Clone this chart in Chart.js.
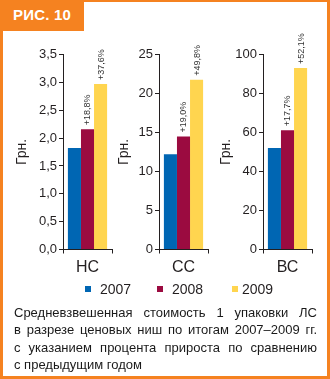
<!DOCTYPE html>
<html>
<head>
<meta charset="utf-8">
<script src="https://cdn.jsdelivr.net/npm/chart.js@4/dist/chart.umd.min.js"></script>
<style>
  html, body { margin:0; padding:0; background:#fff; }
  #wrap { position:relative; width:330px; height:379px; overflow:hidden; font-family:'Liberation Sans', Arial, sans-serif; }
  .frame { position:absolute; background:#f58220; }
  #tab { position:absolute; left:0; top:0; width:84px; height:31px; background:#f58220; color:#fff; font-weight:bold; font-size:15px; z-index:2; }
  #tab span { position:absolute; left:13px; top:6px; letter-spacing:0.2px; }
  .pane { position:absolute; top:32px; height:248px; }
  .leg { position:absolute; top:281px; font-size:14px; color:#231f20; line-height:16px; }
  .sq { position:absolute; top:286px; width:6px; height:6px; }
  #caption { position:absolute; left:14px; top:304px; width:303px; font-size:13px; line-height:17.4px; color:#1a1a1a; }
  #caption div { text-align:justify; text-align-last:justify; white-space:nowrap; }
  #caption div.last { text-align-last:left; }
</style>
</head>
<body>
<div id="wrap">
  <div class="frame" style="left:84px;top:0;width:246px;height:2px"></div>
  <div class="frame" style="left:0;top:0;width:3px;height:379px"></div>
  <div class="frame" style="left:327px;top:0;width:3px;height:379px"></div>
  <div class="frame" style="left:0;top:376px;width:330px;height:3px"></div>
  <div id="tab"><span>РИС. 10</span></div>

  <canvas id="c0" class="pane"></canvas>
  <canvas id="c1" class="pane"></canvas>
  <canvas id="c2" class="pane"></canvas>

  <div id="legend"></div>

  <div id="caption">
    <div>Средневзвешенная стоимость 1 упаковки ЛС</div>
    <div>в разрезе ценовых ниш по итогам 2007–2009 гг.</div>
    <div>с указанием процента прироста по сравнению</div>
    <div class="last">с предыдущим годом</div>
  </div>
</div>
<script>
// данные
const categories = ['НС', 'СС', 'ВС'];
const years = ['2007', '2008', '2009'];
const values2007 = [1.82, 12.2, 52.0];
const values2008 = [2.16, 14.5, 61.2];
const values2009 = [2.97, 21.75, 93.1];
const growth2008 = ['+18,8%', '+19,0%', '+17,7%'];
const growth2009 = ['+37,6%', '+49,8%', '+52,1%'];
const axisMax = [3.5, 25, 100];
const axisStep = [0.5, 5, 20];
const axisTitle = 'Грн.';

const colors = ['#0066b3', '#9b0b40', '#ffd54f'];
const ink = '#231f20';

// positions of the three panels
const paneLeft = [0, 104, 208];
const areaLeft = [63, 159, 263];
const areaRight = [112, 208, 312];
const titleCenter = [22, 124, 226.5];

Chart.defaults.font.family = "'Liberation Sans', Arial, sans-serif";
Chart.defaults.color = ink;

// growth labels above bars, rotated
const growthLabels = {
  id: 'growthLabels',
  afterDatasetsDraw(chart) {
    const i = chart.options.paneIndex;
    const ctx = chart.ctx;
    [[1, growth2008[i]], [2, growth2009[i]]].forEach(([ds, txt]) => {
      const el = chart.getDatasetMeta(ds).data[0];
      ctx.save();
      ctx.translate(el.x, el.y - 4);
      ctx.rotate(-Math.PI / 2);
      ctx.font = "9px 'Liberation Sans', Arial, sans-serif";
      ctx.fillStyle = '#333';
      ctx.textAlign = 'left';
      ctx.textBaseline = 'middle';
      ctx.fillText(txt, 0, 0.5);
      ctx.restore();
    });
  }
};

function makePane(i) {
  const cv = document.getElementById('c' + i);
  const w = areaRight[i] + 3 - paneLeft[i];
  cv.style.left = paneLeft[i] + 'px';
  cv.style.width = w + 'px';
  cv.width = w; cv.height = 248;
  const yWidth = areaLeft[i] - paneLeft[i];
  new Chart(cv, {
    type: 'bar',
    data: {
      labels: [categories[i]],
      datasets: [
        { label: years[0], data: [values2007[i]], backgroundColor: colors[0] },
        { label: years[1], data: [values2008[i]], backgroundColor: colors[1] },
        { label: years[2], data: [values2009[i]], backgroundColor: colors[2] }
      ]
    },
    options: {
      paneIndex: i,
      responsive: false,
      animation: false,
      events: [],
      layout: { padding: { top: 22.5, right: 3, bottom: 0, left: 0 } },
      datasets: { bar: { categoryPercentage: 0.8, barPercentage: 1 } },
      plugins: { legend: { display: false }, tooltip: { enabled: false } },
      scales: {
        x: {
          grid: { drawOnChartArea: false, drawTicks: true, tickLength: 4, color: ink },
          border: { color: ink },
          ticks: { font: { size: 16 }, padding: 4, color: ink },
          afterFit: s => { s.height = 30.5; }
        },
        y: {
          min: 0, max: axisMax[i],
          grid: { drawOnChartArea: false, drawTicks: true, tickLength: 4, color: ink },
          border: { color: ink },
          ticks: {
            stepSize: axisStep[i], font: { size: 13 }, padding: 2, color: ink,
            callback: v => i === 0 ? v.toFixed(1).replace('.', ',') : String(v)
          },
          title: {
            display: true, text: axisTitle, font: { size: 14 }, color: ink,
            padding: { top: titleCenter[i] - paneLeft[i] - 8.4, bottom: 0 }
          },
          afterFit: s => { s.width = yWidth; }
        }
      }
    },
    plugins: [growthLabels]
  });
}
[0, 1, 2].forEach(makePane);

// legend
const legSq = [85, 157, 232];
const legTx = [100, 172, 242];
const leg = document.getElementById('legend');
years.forEach((y, k) => {
  leg.innerHTML += `<div class="sq" style="left:${legSq[k]}px;background:${colors[k]}"></div>` +
    `<div class="leg" style="left:${legTx[k]}px">${y}</div>`;
});
</script>
</body>
</html>
